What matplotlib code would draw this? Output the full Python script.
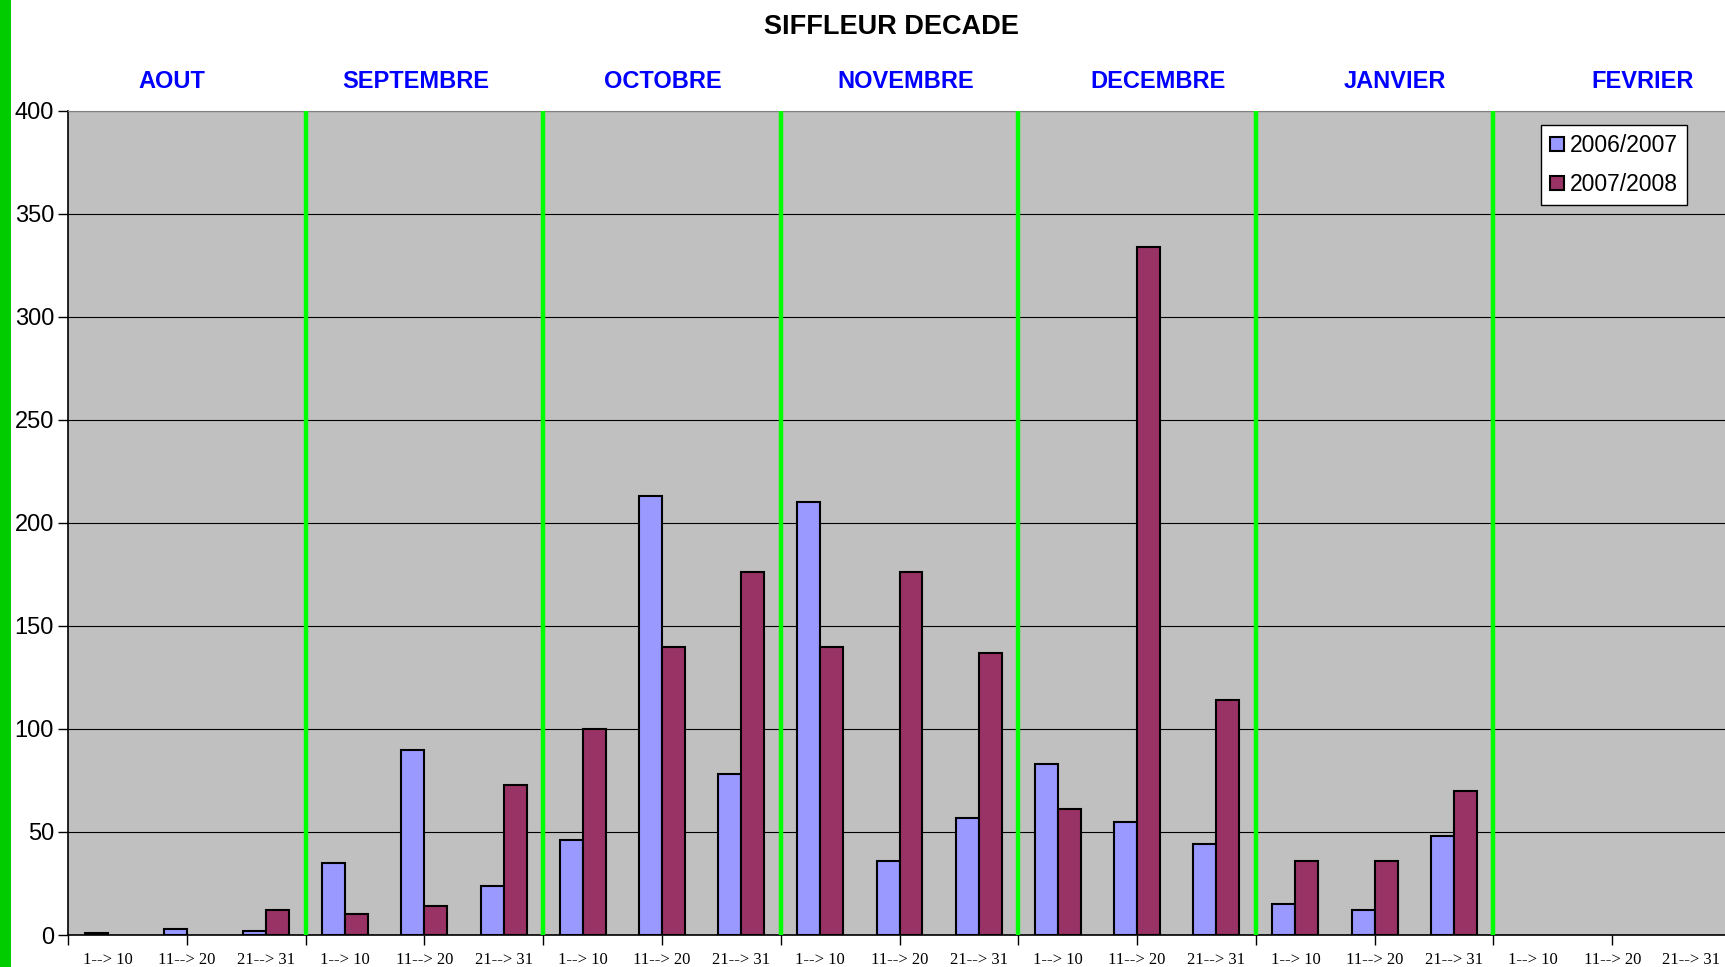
import numpy as np
import matplotlib.pyplot as plt
from matplotlib.patches import Rectangle

# data
mois = ['AOUT', 'SEPTEMBRE', 'OCTOBRE', 'NOVEMBRE', 'DECEMBRE', 'JANVIER', 'FEVRIER']
decades = ['1--> 10', '11--> 20', '21--> 31']
s2006_2007 = [1, 3, 2, 35, 90, 24, 46, 213, 78, 210, 36, 57, 83, 55, 44, 15, 12, 48, 0, 0, 0]
s2007_2008 = [0, 0, 12, 10, 14, 73, 100, 140, 176, 140, 176, 137, 61, 334, 114, 36, 36, 70, 0, 0, 0]

W, H = 1725, 967
fig = plt.figure(figsize=(W / 100, H / 100), dpi=100)
fig.patch.set_facecolor('white')

# green stripe on the left edge
fig.patches.append(Rectangle((0, 0), 11 / W, 1, transform=fig.transFigure,
                             facecolor='#00CC00', edgecolor='none'))

ax = fig.add_axes([68 / W, 1 - 935 / H, (1731 - 68) / W, (935 - 111) / H])
ax.set_facecolor('#C0C0C0')

n = len(s2006_2007)
x = np.arange(n) + 0.5
bw = 0.29
# empty decades draw nothing (no outline at the base)
v1 = np.where(np.array(s2006_2007) == 0, np.nan, s2006_2007)
v2 = np.where(np.array(s2007_2008) == 0, np.nan, s2007_2008)
ax.bar(x - bw / 2, v1, bw, color='#9999FF', edgecolor='black', linewidth=1.5,
       label='2006/2007', zorder=3)
ax.bar(x + bw / 2, v2, bw, color='#993366', edgecolor='black', linewidth=1.5,
       label='2007/2008', zorder=3)

# month separators
for b in range(3, n, 3):
    ax.axvline(b, color='#00FF00', linewidth=3.2, zorder=4)

ax.set_xlim(0, n)
ax.set_ylim(0, 400)
ax.set_yticks(range(0, 401, 50))
ax.grid(True, axis='y', color='black', linewidth=0.8, zorder=1)
ax.tick_params(axis='y', direction='out', length=7, width=1, labelsize=17, pad=3)
for lab in ax.get_yticklabels():
    lab.set_fontfamily('Liberation Sans')

# x ticks every 1.5 decades, labels under each decade
ax.set_xticks(np.arange(0, n + 0.01, 1.5))
ax.set_xticklabels([])
ax.tick_params(axis='x', direction='out', length=7, width=1)
for i in range(n):
    ax.text(x[i], -12, decades[i % 3], ha='center', va='center', fontsize=12,
            family='Liberation Serif', transform=ax.transData, clip_on=False)

for s in ['left', 'bottom']:
    ax.spines[s].set_color('black')
    ax.spines[s].set_linewidth(1.2)
ax.spines['top'].set_color('#808080')
ax.spines['right'].set_visible(False)

# title and month labels
fig.text(891 / W, 1 - 27 / H, 'SIFFLEUR DECADE', ha='center', va='center',
         fontsize=19.5, fontweight='bold', family='Liberation Sans')
mois_x = [172, 416, 663, 906, 1158, 1395, 1643]
for m, mx in zip(mois, mois_x):
    fig.text(mx / W, 1 - 81 / H, m, ha='center', va='center', fontsize=17,
             fontweight='bold', color='#0000FF', family='Liberation Sans')

leg = ax.legend(loc='upper left', bbox_to_anchor=((1541 - 68) / (1731 - 68), 1 - 14 / 824),
                frameon=True, fancybox=False, handlelength=0.6,
                handleheight=0.6, handletextpad=0.25, borderpad=0.4, labelspacing=0.7,
                borderaxespad=0, prop={'family': 'Liberation Sans', 'size': 16.5})
leg.get_frame().set_edgecolor('black')
leg.get_frame().set_linewidth(1)
leg.get_frame().set_facecolor('white')
leg.get_frame().set_alpha(1)

fig.savefig('out.png', dpi=100)
